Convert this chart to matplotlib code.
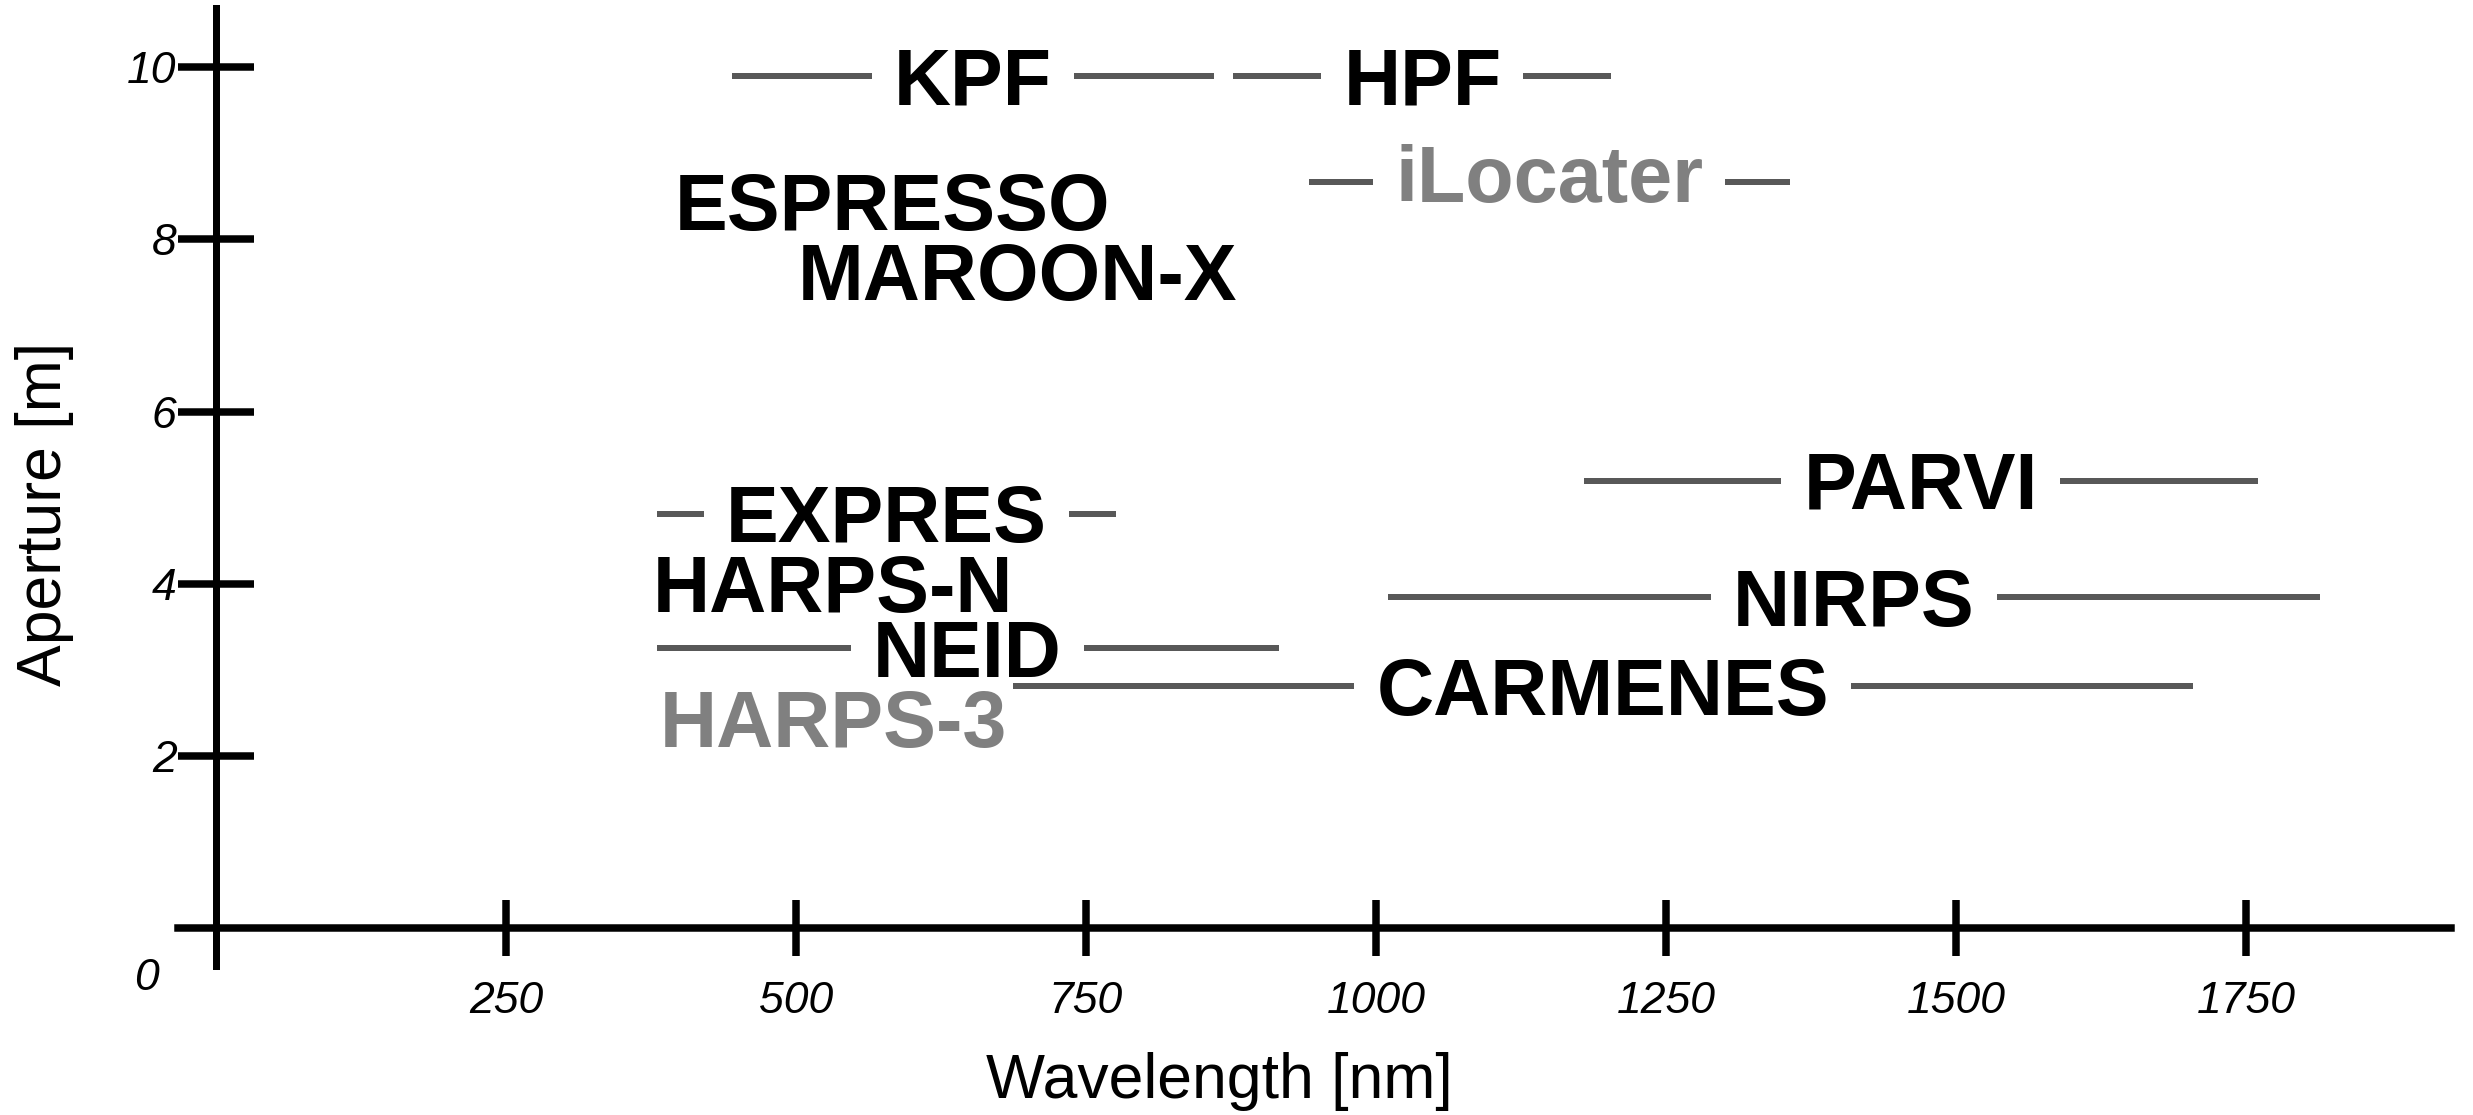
import numpy as np
from matplotlib import pyplot as plt

# 仪器：波长范围 (nm) 和口径 (m)
line_names = ["KPF", "HPF", "iLocater", "EXPRES", "NEID", "CARMENES", "PARVI", "NIRPS"]
line_wl_min = [445, 877, 942, 380, 380, 687, 1179, 1010]
line_wl_max = [860, 1203, 1357, 776, 916, 1704, 1760, 1814]
line_aperture = [9.9, 9.9, 8.67, 4.81, 3.25, 2.81, 5.19, 3.84]
# 文字的位置（iLocater 的文字比线略高）
line_text_aperture = [9.9, 9.9, 8.77, 4.81, 3.25, 2.81, 5.21, 3.84]
line_gray = [False, False, True, False, False, False, False, False]

# 只有名字的仪器（文字中心）
label_names = ["ESPRESSO", "MAROON-X", "HARPS-N", "HARPS-3"]
label_wl = [583, 691, 532, 532]
label_aperture = [8.44, 7.63, 4.0, 2.43]
label_gray = [False, False, False, True]

x_ticks = [250, 500, 750, 1000, 1250, 1500, 1750]
y_ticks = [2, 4, 6, 8, 10]

DPI = 100
NAME_SIZE = 57
LINE_COLOR = "#585858"
GRAY_TEXT = "#808080"


def px(p):
    # 像素 -> 点
    return p * 72.0 / DPI


def main():
    plt.rcParams["font.family"] = ["Liberation Sans", "DejaVu Sans"]

    fig = plt.figure(figsize=(24.73, 11.15), dpi=DPI)
    ax = fig.add_axes([0.06858, 0.12915, 0.92875, 0.86843])
    ax.set_xlim(-40, 1940)
    ax.set_ylim(-0.5, 10.75)

    # 坐标轴
    for side in ["top", "right"]:
        ax.spines[side].set_visible(False)
    ax.spines["left"].set_position(("data", 0))
    ax.spines["bottom"].set_position(("data", 0))
    ax.spines["left"].set_bounds(-0.44, 10.69)
    ax.spines["bottom"].set_bounds(-33, 1927)
    ax.spines["left"].set_linewidth(px(7))
    ax.spines["bottom"].set_linewidth(px(7.5))

    ax.set_xticks(x_ticks)
    ax.set_yticks(y_ticks)
    ax.set_xticklabels([str(v) for v in x_ticks])
    ax.set_yticklabels([str(v) for v in y_ticks])
    ax.tick_params(axis="y", direction="inout", length=px(76), width=px(7.5),
                   pad=1, labelsize=32)
    ax.tick_params(axis="x", direction="inout", length=px(56), width=px(7.5),
                   pad=18, labelsize=32)
    for lab in ax.get_xticklabels() + ax.get_yticklabels():
        lab.set_fontstyle("italic")

    ax.text(-60, -0.59, "0", fontsize=32, fontstyle="italic",
            ha="center", va="center")

    fig.text(0.4929, 0.0296, "Wavelength [nm]", fontsize=45,
             ha="center", va="center")
    fig.text(0.0178, 0.539, "Aperture [m]", fontsize=45, rotation=90,
             ha="center", va="center")

    # 文字基线下移半个大写字母高度，让线穿过文字中部
    dy = -0.36 * NAME_SIZE

    texts = []
    for name, lo, hi, ap, gray in zip(line_names, line_wl_min, line_wl_max,
                                      line_text_aperture, line_gray):
        t = ax.annotate(name, ((lo + hi) / 2, ap), xytext=(0, dy),
                        textcoords="offset points", ha="center", va="baseline",
                        fontsize=NAME_SIZE, fontweight="bold",
                        color=GRAY_TEXT if gray else "black", zorder=3)
        texts.append(t)

    for name, wl, ap, gray in zip(label_names, label_wl, label_aperture, label_gray):
        ax.annotate(name, (wl, ap), xytext=(0, dy),
                    textcoords="offset points", ha="center", va="baseline",
                    fontsize=NAME_SIZE, fontweight="bold",
                    color=GRAY_TEXT if gray else "black", zorder=3)

    # 根据文字宽度把线断开
    fig.canvas.draw()
    renderer = fig.canvas.get_renderer()
    inv = ax.transData.inverted()
    gap = 22
    for t, lo, hi, ap in zip(texts, line_wl_min, line_wl_max, line_aperture):
        bb = t.get_window_extent(renderer)
        left = inv.transform((bb.x0 - gap, 0))[0]
        right = inv.transform((bb.x1 + gap, 0))[0]
        ax.hlines(ap, lo, left, color=LINE_COLOR, linewidth=px(6), zorder=2)
        ax.hlines(ap, right, hi, color=LINE_COLOR, linewidth=px(6), zorder=2)

    fig.savefig("out.png", dpi=DPI)
    plt.close(fig)


if __name__ == "__main__":
    main()
